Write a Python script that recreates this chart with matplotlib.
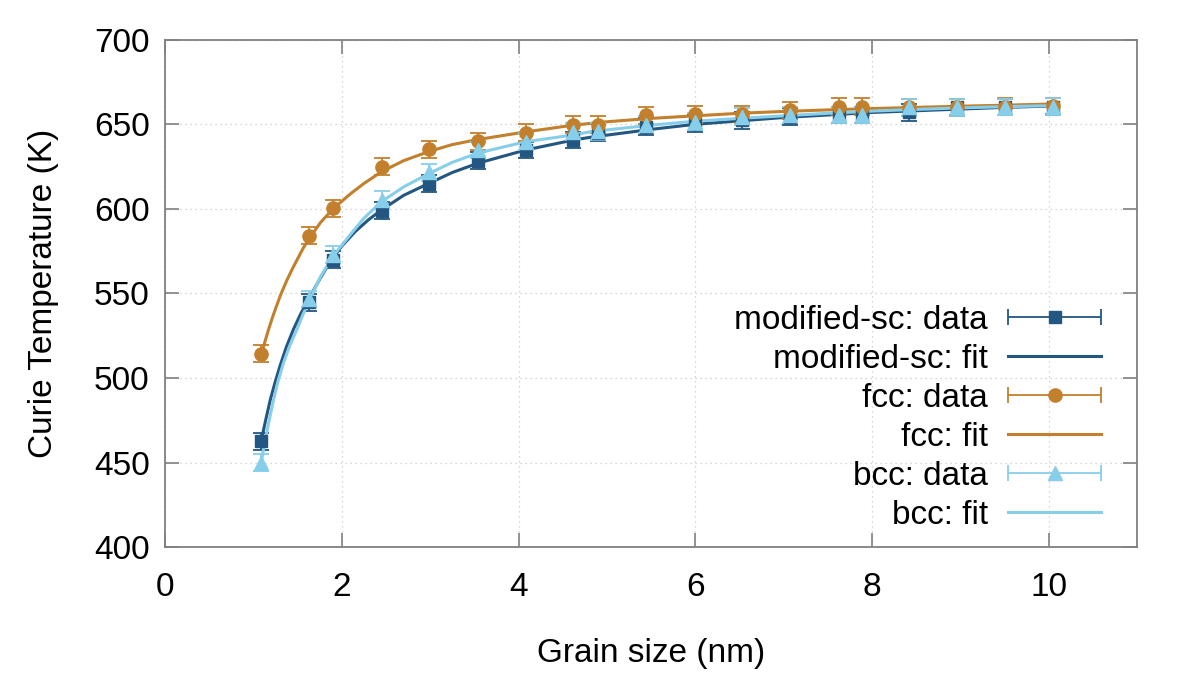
import matplotlib

matplotlib.use("Agg")

import matplotlib.pyplot as plt
from matplotlib.container import ErrorbarContainer
from matplotlib.legend_handler import HandlerErrorbar

plt.rcParams["font.family"] = ["Liberation Sans", "DejaVu Sans"]

# grain sizes (nm) of the simulated particles
grain_size = [1.09, 1.63, 1.90, 2.45, 2.99, 3.54, 4.08, 4.62, 4.90, 5.44,
              5.99, 6.53, 7.07, 7.62, 7.88, 8.42, 8.96, 9.50, 10.04]

sc_tc = [462.6, 544.7, 569.9, 598.9, 614.8, 628.5, 634.8, 640.7, 645.0, 648.6,
         650.5, 652.5, 654.5, 655.5, 655.5, 657.0, 660.0, 660.2, 660.5]
fcc_tc = [514.4, 584.2, 600.4, 625.0, 635.2, 640.0, 645.0, 649.6, 649.6, 655.3,
          655.9, 656.0, 658.4, 660.5, 660.4, 660.0, 660.2, 660.5, 660.8]
bcc_tc = [449.9, 546.7, 572.8, 605.5, 621.7, 634.8, 639.7, 645.6, 645.8, 649.6,
          651.5, 654.5, 655.5, 655.5, 655.5, 660.0, 660.0, 660.2, 660.5]
tc_err = 5.0

# fit curves
sc_fit_x = [1.087, 1.14, 1.19, 1.245, 1.30, 1.37, 1.45, 1.54, 1.63, 1.75,
            1.87, 2.0, 2.15, 2.3, 2.45, 2.7, 2.99, 3.25, 3.54, 4.08, 4.62,
            4.81, 5.5, 6.0, 6.5, 7.0, 7.5, 8.0, 8.5, 9.0, 9.5, 10.04]
sc_fit_y = [462.6, 475.5, 487.0, 497.5, 507.0, 518.0, 528.5, 538.5, 547.0,
            558.5, 568.9, 578.0, 586.5, 593.5, 599.4, 608.0, 615.2, 621.5,
            627.0, 634.8, 640.7, 642.3, 647.0, 650.0, 652.0, 654.0, 655.5,
            657.0, 658.0, 659.0, 660.0, 660.8]

fcc_fit_x = [1.09, 1.13, 1.17, 1.21, 1.25, 1.31, 1.38, 1.44, 1.50, 1.56, 1.63,
             1.76, 1.90, 2.1, 2.25, 2.45, 2.7, 2.99, 3.25, 3.54, 4.08, 4.62,
             5.0, 5.5, 6.0, 6.5, 7.0, 7.5, 8.0, 8.5, 9.0, 9.5, 10.04]
fcc_fit_y = [514.0, 521.5, 528.5, 535.0, 541.0, 549.5, 558.0, 564.5, 570.5,
             576.5, 582.5, 592.0, 600.0, 609.0, 615.0, 622.0, 628.5, 634.0,
             638.0, 641.0, 645.5, 649.5, 651.5, 653.5, 655.0, 656.5, 657.6,
             658.5, 659.3, 660.0, 660.7, 661.3, 662.0]

bcc_fit_x = [1.087, 1.13, 1.18, 1.227, 1.28, 1.34, 1.41, 1.49, 1.56, 1.634,
             1.76, 1.90, 2.1, 2.25, 2.45, 2.7, 2.99, 3.25, 3.54, 4.08, 4.62,
             4.81, 5.5, 6.0, 6.5, 7.0, 7.5, 8.0, 8.5, 9.0, 9.5, 10.04]
bcc_fit_y = [449.9, 462.5, 475.5, 487.0, 498.5, 509.0, 519.0, 528.5, 537.5,
             546.0, 560.0, 572.0, 585.0, 594.5, 604.3, 613.0, 621.0, 627.5,
             633.0, 639.7, 643.7, 645.6, 649.5, 651.8, 653.5, 655.0, 656.5,
             657.8, 658.8, 659.7, 660.4, 661.0]

SERIES = [
    ("modified-sc", sc_tc, sc_fit_x, sc_fit_y, "#235680", "s", 8.5),
    ("fcc", fcc_tc, fcc_fit_x, fcc_fit_y, "#c3802c", "o", 9.5),
    ("bcc", bcc_tc, bcc_fit_x, bcc_fit_y, "#87ceeb", "^", 10),
]

FONT = 24

fig = plt.figure(figsize=(11.96, 6.73), dpi=100)
ax = fig.add_axes([0.138, 0.187, 0.813, 0.754])

handles = []
labels = []
for name, tc, fit_x, fit_y, color, marker, msize in SERIES:
    eb = ax.errorbar(grain_size, tc, yerr=tc_err, fmt=marker, color=color,
                     markersize=msize, elinewidth=1.3, capsize=6, capthick=1.3,
                     zorder=3)
    line, = ax.plot(fit_x, fit_y, color=color, linewidth=2.2, zorder=3)
    # gnuplot-style key: horizontal bar with caps around the marker
    eb.has_xerr, eb.has_yerr = True, False
    handles += [eb, line]
    labels += [f"{name}: data", f"{name}: fit"]

ax.set_xlim(0, 11)
ax.set_ylim(400, 700)
ax.set_xticks([0, 2, 4, 6, 8, 10])
ax.set_yticks(range(400, 701, 50))
ax.grid(True, linestyle=(0, (1, 3)), color="#c8c8c8", linewidth=0.9)
ax.set_axisbelow(True)

for side in ax.spines.values():
    side.set_color("#808080")
    side.set_linewidth(1.3)
ax.tick_params(axis="both", direction="in", length=10, width=1.2,
               color="#808080", top=True, right=True, labelsize=FONT)
ax.tick_params(axis="x", pad=18)
ax.tick_params(axis="y", pad=11)

ax.set_xlabel("Grain size (nm)", fontsize=FONT, labelpad=25)
ax.set_ylabel("Curie Temperature (K)", fontsize=FONT, labelpad=25)

ax.legend(handles, labels, loc="lower right", bbox_to_anchor=(0.963, 0.032),
          frameon=False, markerfirst=False, fontsize=FONT, labelspacing=0.24,
          handlelength=2.8, handletextpad=0.6, borderpad=0, borderaxespad=0,
          numpoints=1,
          handler_map={ErrorbarContainer: HandlerErrorbar(xerr_size=1.4)})

fig.savefig("out.png", dpi=100)
